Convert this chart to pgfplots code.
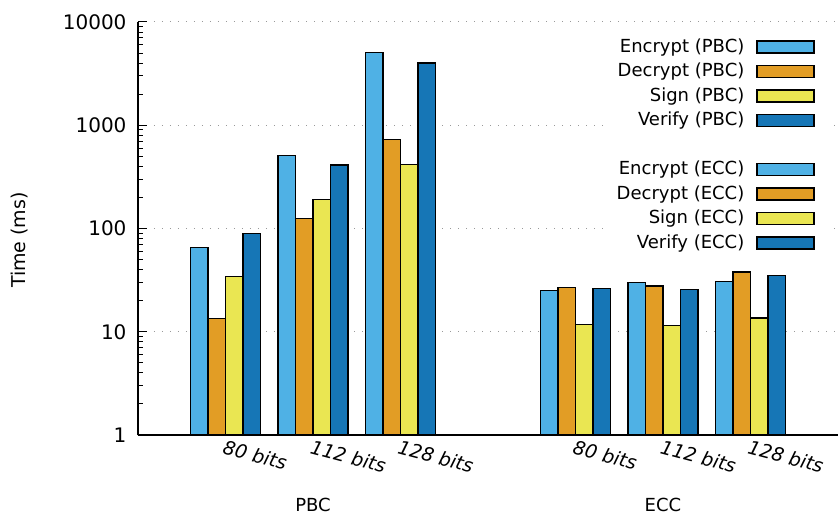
\documentclass[border=0pt]{standalone}
\usepackage{fontspec}
\setmainfont{DejaVu Sans}
\usepackage{pgfplots}
\pgfplotsset{compat=1.18}
\definecolor{cenc}{HTML}{4FB1E5}
\definecolor{cdec}{HTML}{E29D25}
\definecolor{csig}{HTML}{EAE652}
\definecolor{cver}{HTML}{1676B6}
\begin{document}
\begin{tikzpicture}
\begin{axis}[
  scale only axis, width=700pt, height=413pt,
  ymode=log, ymin=1, ymax=10000, xmin=-1, xmax=7,
  axis x line*=bottom, axis y line*=left,
  axis line style={line width=1.3pt, -},
  ytick={1,10,100,1000,10000},
  yticklabels={1,10,100,1000,10000},
  every y tick label/.append style={font=\fontsize{20}{24}\selectfont, xshift=-8pt},
  xtick={0,1,2,4,5,6},
  xticklabels={80 bits,112 bits,128 bits,80 bits,112 bits,128 bits},
  every x tick label/.append style={font=\fontsize{19}{22}\selectfont\itshape, yshift=5pt, rotate=-15, anchor=north west, inner sep=0pt},
  x tick style={draw=none},
  y tick style={black, line width=1pt},
  major tick length=9pt, minor tick length=5pt,
  ymajorgrids,
  major grid style={dash pattern=on 1.3pt off 6.7pt, line width=1pt, gray!80},
  ybar, bar width=0.2,
  clip=false,
  legend style={at={(axis description cs:0.9839,0.9896)}, anchor=north east, draw=none, fill=white, inner sep=12pt,
    font=\fontsize{18}{21}\selectfont, row sep=7.5pt, column sep=12pt,
    nodes={inner sep=0pt, text height=14pt, text depth=3pt}},
  legend cell align=right, legend plot pos=right,
  legend image code/.code={\draw[#1, line width=1.2pt] (0pt,-6pt) rectangle (57pt,6pt);},
]
% PBC
\addplot[fill=cenc, draw=black, line width=1.2pt, bar shift=-0.3] coordinates {(0,65) (1,511) (2,5045)};
\addlegendentry{Encrypt (PBC)}
\addplot[fill=cdec, draw=black, line width=1.2pt, bar shift=-0.1] coordinates {(0,13.4) (1,124) (2,731)};
\addlegendentry{Decrypt (PBC)}
\addplot[fill=csig, draw=black, line width=1.2pt, bar shift=0.1] coordinates {(0,34) (1,192) (2,419)};
\addlegendentry{Sign (PBC)}
\addplot[fill=cver, draw=black, line width=1.2pt, bar shift=0.3] coordinates {(0,89) (1,412) (2,4009)};
\addlegendentry{Verify (PBC)}
\addlegendimage{empty legend}
\addlegendentry{}
% ECC
\addplot[fill=cenc, draw=black, line width=1.2pt, bar shift=-0.3] coordinates {(4,25.0) (5,30.1) (6,30.5)};
\addlegendentry{Encrypt (ECC)}
\addplot[fill=cdec, draw=black, line width=1.2pt, bar shift=-0.1] coordinates {(4,26.9) (5,27.7) (6,37.9)};
\addlegendentry{Decrypt (ECC)}
\addplot[fill=csig, draw=black, line width=1.2pt, bar shift=0.1] coordinates {(4,11.7) (5,11.5) (6,13.6)};
\addlegendentry{Sign (ECC)}
\addplot[fill=cver, draw=black, line width=1.2pt, bar shift=0.3] coordinates {(4,26.4) (5,25.5) (6,35.2)};
\addlegendentry{Verify (ECC)}
\node[rotate=90, inner sep=0pt] at (axis description cs:-0.1686,0.472) {\fontsize{19}{22}\selectfont Time (ms)};
\node[inner sep=0pt] at (axis cs:1,1) [yshift=-70pt] {\fontsize{18}{21}\selectfont PBC};
\node[inner sep=0pt] at (axis cs:5,1) [yshift=-70pt] {\fontsize{18}{21}\selectfont ECC};
\end{axis}
\pgfresetboundingbox
\path[use as bounding box] (-138pt,-80pt) rectangle (700pt,435pt);
\end{tikzpicture}
\end{document}
